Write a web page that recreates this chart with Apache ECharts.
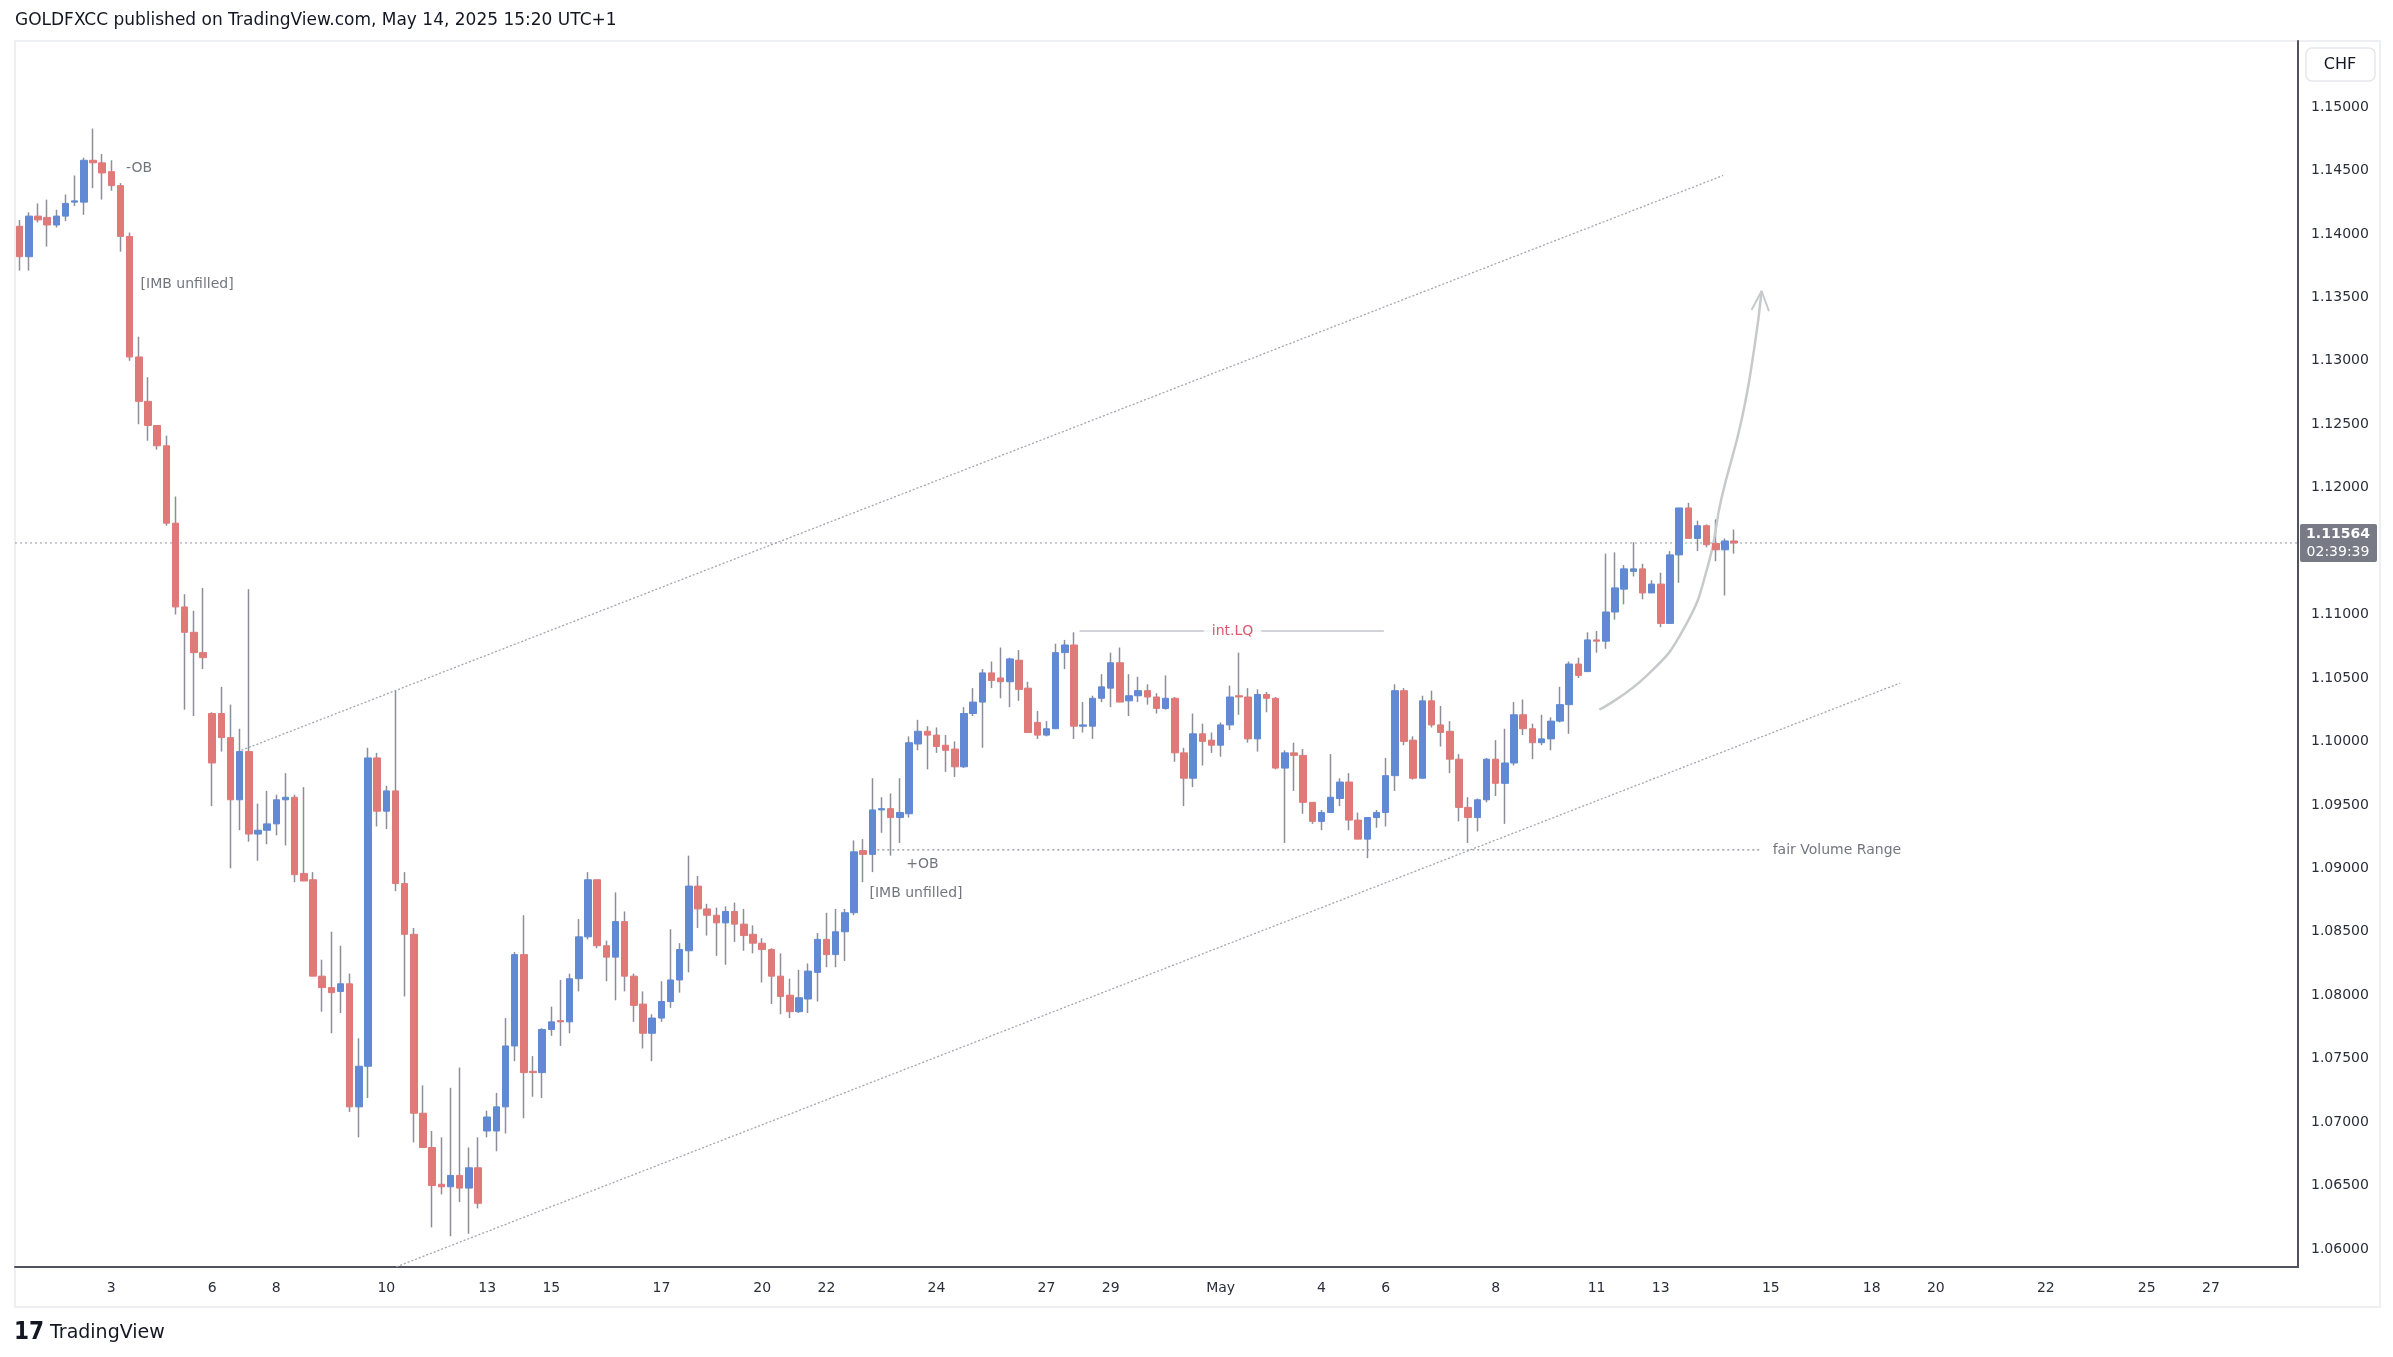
<!DOCTYPE html>
<html>
<head>
<meta charset="utf-8">
<script src="https://cdn.jsdelivr.net/npm/echarts@6/dist/echarts.min.js"></script>
<style>
  html, body { margin: 0; padding: 0; background: #fff; }
  #chart { width: 2393px; height: 1357px; }
</style>
</head>
<body>
<div id="chart"></div>
<script>
// 4h candles, CHF quote
const opens = [
  1.1406,1.1382,1.1414,1.1413,1.1407,1.1414,1.1425,1.1425,1.1458,1.1456,
  1.1449,1.1438,1.1398,1.1303,1.1268,1.1249,1.1233,1.1172,1.1106,1.1086,
  1.1070,1.1022,1.1022,1.1003,1.0954,1.0992,1.0927,1.0930,1.0935,1.0954,
  1.0956,1.0896,1.0891,1.0815,1.0806,1.0803,1.0809,1.0712,1.0744,1.0987,
  1.0945,1.0961,1.0888,1.0848,1.0707,1.0680,1.0651,1.0649,1.0658,1.0648,
  1.0664,1.0693,1.0693,1.0712,1.0760,1.0832,1.0740,1.0739,1.0773,1.0780,
  1.0779,1.0813,1.0846,1.0891,1.0839,1.0830,1.0858,1.0815,1.0793,1.0770,
  1.0782,1.0795,1.0812,1.0835,1.0886,1.0868,1.0863,1.0857,1.0866,1.0856,
  1.0848,1.0841,1.0836,1.0815,1.0800,1.0787,1.0797,1.0818,1.0844,1.0832,
  1.0850,1.0865,1.0914,1.0911,1.0946,1.0947,1.0940,1.0943,1.0998,1.1008,
  1.1005,1.0997,1.0994,1.0980,1.1022,1.1031,1.1054,1.1050,1.1047,1.1064,
  1.1042,1.1015,1.1005,1.1010,1.1070,1.1076,1.1012,1.1012,1.1034,1.1042,
  1.1062,1.1032,1.1036,1.1040,1.1035,1.1026,1.1034,1.0991,1.0971,1.1006,
  1.1001,1.0997,1.1013,1.1036,1.1035,1.1002,1.1037,1.1034,1.0979,1.0991,
  1.0989,1.0952,1.0937,1.0944,1.0955,1.0968,1.0938,1.0923,1.0940,1.0944,
  1.0973,1.1040,1.1001,1.0971,1.1032,1.1013,1.1008,1.0986,1.0948,1.0940,
  1.0954,1.0986,1.0967,1.0983,1.1021,1.1010,1.0999,1.1002,1.1016,1.1029,
  1.1061,1.1055,1.1080,1.1079,1.1102,1.1120,1.1134,1.1136,1.1117,1.1124,
  1.1093,1.1147,1.1184,1.1160,1.1170,1.1156,1.1151,1.1158
];
const closes = [
  1.1382,1.1414,1.1411,1.1407,1.1414,1.1424,1.1426,1.1458,1.1456,1.1448,
  1.1438,1.1398,1.1303,1.1268,1.1249,1.1233,1.1172,1.1106,1.1086,1.1070,
  1.1066,1.0983,1.1003,1.0954,1.0992,1.0927,1.0930,1.0935,1.0954,1.0956,
  1.0895,1.0890,1.0815,1.0806,1.0802,1.0809,1.0712,1.0744,1.0987,1.0945,
  1.0961,1.0888,1.0848,1.0707,1.0680,1.0650,1.0649,1.0658,1.0648,1.0664,
  1.0636,1.0704,1.0712,1.0760,1.0832,1.0739,1.0739,1.0773,1.0779,1.0779,
  1.0813,1.0846,1.0891,1.0839,1.0830,1.0858,1.0815,1.0792,1.0770,1.0782,
  1.0795,1.0812,1.0836,1.0886,1.0868,1.0863,1.0857,1.0866,1.0856,1.0847,
  1.0841,1.0836,1.0815,1.0799,1.0787,1.0798,1.0819,1.0844,1.0832,1.0850,
  1.0865,1.0913,1.0911,1.0946,1.0947,1.0940,1.0944,1.0999,1.1008,1.1005,
  1.0996,1.0993,1.0980,1.1022,1.1031,1.1054,1.1048,1.1047,1.1065,1.1041,
  1.1007,1.1005,1.1010,1.1070,1.1076,1.1012,1.1013,1.1034,1.1043,1.1062,
  1.1031,1.1036,1.1040,1.1035,1.1026,1.1034,1.0991,1.0971,1.1006,1.1000,
  1.0997,1.1013,1.1035,1.1035,1.1002,1.1037,1.1034,1.0979,1.0991,1.0989,
  1.0952,1.0937,1.0944,1.0956,1.0968,1.0938,1.0923,1.0940,1.0944,1.0973,
  1.1040,1.1000,1.0971,1.1032,1.1013,1.1007,1.0986,1.0948,1.0940,1.0954,
  1.0986,1.0967,1.0983,1.1021,1.1010,1.0999,1.1002,1.1016,1.1029,1.1061,
  1.1052,1.1080,1.1079,1.1102,1.1121,1.1136,1.1136,1.1117,1.1124,1.1093,
  1.1147,1.1184,1.1160,1.1170,1.1155,1.1151,1.1158,1.11564
];
const lows = [
  1.1371,1.1371,1.1409,1.1390,1.1405,1.1410,1.1422,1.1415,1.1436,1.1427,
  1.1434,1.1386,1.1300,1.1250,1.1237,1.1230,1.1170,1.1100,1.1025,1.1020,
  1.1057,1.0949,1.0992,1.0900,1.0930,1.0921,1.0906,1.0919,1.0926,1.0918,
  1.0889,1.0890,1.0815,1.0787,1.0770,1.0786,1.0708,1.0688,1.0719,1.0933,
  1.0931,1.0882,1.0799,1.0684,1.0680,1.0617,1.0643,1.0610,1.0637,1.0612,
  1.0632,1.0688,1.0677,1.0691,1.0748,1.0703,1.0720,1.0719,1.0768,1.0760,
  1.0770,1.0803,1.0844,1.0837,1.0811,1.0796,1.0803,1.0779,1.0758,1.0748,
  1.0779,1.0790,1.0802,1.0818,1.0853,1.0847,1.0831,1.0824,1.0842,1.0835,
  1.0833,1.0810,1.0793,1.0785,1.0782,1.0786,1.0786,1.0795,1.0822,1.0822,
  1.0827,1.0863,1.0889,1.0897,1.0928,1.0910,1.0920,1.0940,1.0993,1.0978,
  1.0991,1.0976,1.0972,1.0979,1.1020,1.0995,1.1042,1.1034,1.1027,1.1032,
  1.1007,1.1002,1.1004,1.1010,1.1057,1.1002,1.1007,1.1002,1.1031,1.1027,
  1.1031,1.1020,1.1031,1.1029,1.1022,1.1025,1.0984,1.0949,1.0964,1.0981,
  1.0991,1.0988,1.1009,1.1021,1.0999,1.0992,1.1023,1.0978,1.0920,1.0961,
  1.0943,1.0935,1.0930,1.0944,1.0949,1.0930,1.0923,1.0908,1.0932,1.0933,
  1.0961,1.0997,1.0970,1.0971,1.1011,1.0996,1.0975,1.0937,1.0920,1.0929,
  1.0952,1.0957,1.0935,1.0981,1.1005,1.0986,1.0997,1.0993,1.1015,1.1006,
  1.1050,1.1055,1.1070,1.1073,1.1096,1.1108,1.1130,1.1112,1.1117,1.1090,
  1.1093,1.1125,1.1160,1.1150,1.1153,1.1142,1.1115,1.1148
];
const highs = [
  1.1411,1.1417,1.1424,1.1427,1.1419,1.1431,1.1446,1.1460,1.1483,1.1463,
  1.1458,1.1440,1.1401,1.1319,1.1287,1.1249,1.1241,1.1193,1.1116,1.1103,
  1.1121,1.1023,1.1043,1.1029,1.1010,1.1120,1.0951,1.0961,1.0958,1.0975,
  1.0958,1.0964,1.0897,1.0828,1.0850,1.0839,1.0817,1.0766,1.0995,1.0991,
  1.0965,1.1040,1.0897,1.0853,1.0729,1.0693,1.0688,1.0727,1.0743,1.0680,
  1.0688,1.0709,1.0723,1.0782,1.0834,1.0863,1.0752,1.0774,1.0791,1.0812,
  1.0817,1.0860,1.0897,1.0891,1.0843,1.0881,1.0866,1.0817,1.0803,1.0785,
  1.0811,1.0852,1.0841,1.0910,1.0894,1.0872,1.0869,1.0870,1.0873,1.0868,
  1.0855,1.0845,1.0837,1.0833,1.0813,1.0820,1.0825,1.0849,1.0865,1.0868,
  1.0868,1.0922,1.0923,1.0971,1.0956,1.0959,1.0971,1.1004,1.1017,1.1012,
  1.1011,1.1005,1.1000,1.1027,1.1042,1.1057,1.1063,1.1074,1.1066,1.1072,
  1.1047,1.1024,1.1016,1.1077,1.1080,1.1086,1.1031,1.1036,1.1053,1.1070,
  1.1074,1.1053,1.1051,1.1045,1.1038,1.1052,1.1035,1.0995,1.1022,1.1014,
  1.1007,1.1015,1.1044,1.1070,1.1042,1.1041,1.1039,1.1035,1.0993,1.0999,
  1.0994,1.0952,1.0946,1.0990,1.0971,1.0975,1.0944,1.0940,1.0946,1.0987,
  1.1045,1.1042,1.1004,1.1036,1.1040,1.1028,1.1016,1.0990,1.0956,1.0955,
  1.0987,1.1001,1.1010,1.1031,1.1033,1.1014,1.1021,1.1019,1.1043,1.1063,
  1.1066,1.1086,1.1087,1.1148,1.1149,1.1139,1.1157,1.1140,1.1127,1.1133,
  1.1150,1.1184,1.1188,1.1174,1.1171,1.1175,1.1160,1.1167
];

// time axis: slot index -> label (empty slots run on to the right edge)
const slotCount = 249;
const tickSlots = [10, 21, 28, 40, 51, 58, 70, 81, 88, 100, 112, 119, 131, 142, 149, 161, 172, 179, 191, 202, 209, 221, 232, 239];
const tickTexts = ['3','6','8','10','13','15','17','20','22','24','27','29','May','4','6','8','11','13','15','18','20','22','25','27'];
// 1.115 is hidden behind the last price tag
const priceTicks = [1.06,1.065,1.07,1.075,1.08,1.085,1.09,1.095,1.10,1.105,1.11,1.12,1.125,1.13,1.135,1.14,1.145,1.15];
const lastPrice = 1.11564;
const lastTimer = '02:39:39';

// drawings (slot, price)
const upperChannel = [[24.2, 1.0993], [185.8, 1.1446]];
const lowerChannel = [[41.1, 1.0586], [205.1, 1.1046]];
const projection = [[172.3, 1.1025], [177.5, 1.1052], [181.6, 1.1090], [184.2, 1.1140], [185.6, 1.1191], [187.8, 1.1253], [189.2, 1.1310], [190.0, 1.1355]];
const projArrow = [[188.9, 1.1340], [190.0, 1.1355], [190.8, 1.1339]];
const intLQ = [[115.6, 1.1087], [148.8, 1.1087]];
const fairRange = [[93, 1.09145], [190, 1.09145]];
const lastLine = [[-0.5, lastPrice], [slotCount - 0.5, lastPrice]];
const notes = [
  { at: [11.6, 1.1452], text: '-OB', color: '#50535e', align: 'left' },
  { at: [13.2, 1.1360], text: '[IMB unfilled]', color: '#50535e', align: 'left' },
  { at: [96.7, 1.0903], text: '+OB', color: '#50535e', align: 'left' },
  { at: [92.7, 1.0880], text: '[IMB unfilled]', color: '#50535e', align: 'left' },
  { at: [132.3, 1.1087], text: 'int.LQ', color: '#d1324a', align: 'center', bg: '#ffffff' },
  { at: [191.2, 1.09145], text: 'fair Volume Range', color: '#50535e', align: 'left' }
];

const UP = '#6189d4', DOWN = '#e07a78', WICK = '#8c8e99';
const FONT = 'DejaVu Sans';

const categories = [];
for (let i = 0; i < slotCount; i++) categories.push(String(i));
const tickMap = {};
tickSlots.forEach((s, k) => { tickMap[s] = tickTexts[k]; });

const bodies = [], wicks = [];
for (let i = 0; i < opens.length; i++) {
  const o = opens[i], c = closes[i];
  bodies.push([o, c, Math.min(o, c), Math.max(o, c)]);
  wicks.push([o, c, lows[i], highs[i]]);
}

function segLine(pts, style, extra) {
  return Object.assign({
    type: 'line', xAxisIndex: 1, yAxisIndex: 0, data: pts, symbol: 'none',
    silent: true, animation: false, lineStyle: style, z: 3
  }, extra || {});
}

const gridL = 15, gridR = 2393 - 2298, gridT = 41, gridB = 1357 - 1267;

let ec = echarts.init(document.getElementById('chart'));
ec.setOption({
  animation: false,
  backgroundColor: '#ffffff',
  grid: { left: gridL, right: gridR, top: gridT, bottom: gridB },
  xAxis: [{
    type: 'category', data: categories, boundaryGap: true,
    axisLine: { lineStyle: { color: '#50535e', width: 2 } },
    axisTick: { show: false },
    axisLabel: {
      interval: 0, margin: 14, fontFamily: FONT, fontSize: 14, color: '#2a2e39',
      formatter: v => tickMap[v] || ''
    },
    splitLine: { show: false }
  }, {
    type: 'value', min: -0.5, max: slotCount - 0.5, show: false
  }],
  yAxis: [{
    type: 'value', position: 'right', min: 1.05858, max: 1.1552, scale: true,
    axisLine: { show: true, onZero: false, lineStyle: { color: '#50535e', width: 2 } },
    axisTick: { show: false },
    splitLine: { show: false },
    axisLabel: {
      customValues: priceTicks, margin: 13,
      fontFamily: FONT, fontSize: 14, color: '#2a2e39',
      formatter: v => v.toFixed(5)
    }
  }],
  series: [
    {
      type: 'candlestick', data: wicks, barWidth: 1.2, silent: true, z: 2,
      itemStyle: { color: WICK, color0: WICK, borderColor: WICK, borderColor0: WICK, borderWidth: 1.5 }
    },
    {
      type: 'candlestick', data: bodies, barWidth: 7, silent: true, z: 4,
      itemStyle: { color: UP, color0: DOWN, borderColor: UP, borderColor0: DOWN, borderWidth: 1 }
    },
    segLine(lastLine, { color: '#9598a1', width: 1, type: [2, 3] }),
    segLine(upperChannel, { color: '#a3a6af', width: 1.3, type: [2, 2] }),
    segLine(lowerChannel, { color: '#a3a6af', width: 1.3, type: [2, 2] }),
    segLine(fairRange, { color: '#8c8e99', width: 1.3, type: [2, 3] }),
    segLine(intLQ, { color: '#c4c6cc', width: 1.5 }),
    segLine(projection, { color: '#c8c9cd', width: 2.5 }, { smooth: 0.5 }),
    segLine(projArrow, { color: '#c8c9cd', width: 2 }),
    {
      type: 'scatter', xAxisIndex: 1, yAxisIndex: 0, symbolSize: 0, silent: true, z: 6,
      data: notes.map(n => ({
        value: n.at,
        label: {
          show: true, position: n.align === 'left' ? 'right' : 'inside', distance: 0,
          formatter: n.text, color: n.color, fontFamily: FONT, fontSize: 14,
          backgroundColor: n.bg || 'transparent', padding: n.bg ? [0, 8] : 0
        }
      }))
    }
  ]
});

// page decorations and the last price tag on the price scale
const tagY = ec.convertToPixel({ yAxisIndex: 0 }, lastPrice);
ec.setOption({
  graphic: [
    { type: 'text', left: 15, top: 12, style: { text: 'GOLDFXCC published on TradingView.com, May 14, 2025 15:20 UTC+1', font: '17px "DejaVu Sans"', fill: '#131722' } },
    { type: 'rect', z: -1, shape: { x: 15, y: 41, width: 2365, height: 1266 }, style: { fill: 'none', stroke: '#eeeff2', lineWidth: 2 } },
    { type: 'rect', shape: { x: 2306, y: 48, width: 69, height: 33, r: 6 }, style: { fill: '#fff', stroke: '#e6e7eb', lineWidth: 1.5 } },
    { type: 'text', x: 2340, y: 65, style: { text: 'CHF', font: '16px "DejaVu Sans"', fill: '#131722', align: 'center', verticalAlign: 'middle' } },
    { type: 'text', left: 14, top: 1321, style: { text: '17', font: 'bold 24px "DejaVu Sans Condensed"', fill: '#131722' } },
    { type: 'text', left: 50, top: 1324, style: { text: 'TradingView', font: '19px "DejaVu Sans"', fill: '#131722' } },
    { type: 'rect', z: 10, shape: { x: 2300, y: tagY - 19, width: 77, height: 38, r: 2 }, style: { fill: '#787b86' } },
    { type: 'text', z: 11, x: 2338, y: tagY - 9, style: { text: lastPrice.toFixed(5), font: 'bold 14px "DejaVu Sans"', fill: '#fff', align: 'center', verticalAlign: 'middle' } },
    { type: 'text', z: 11, x: 2338, y: tagY + 9, style: { text: lastTimer, font: '14px "DejaVu Sans"', fill: '#fff', align: 'center', verticalAlign: 'middle' } }
  ]
});
</script>
</body>
</html>
